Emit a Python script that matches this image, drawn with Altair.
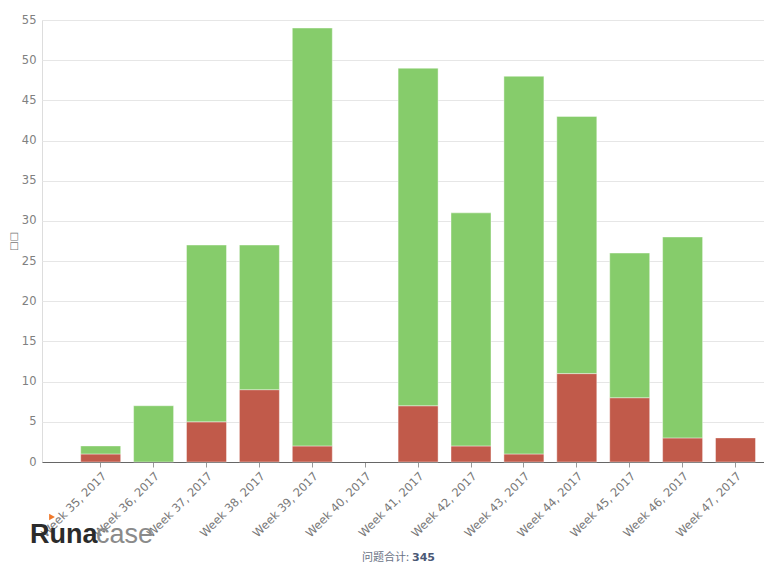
import altair as alt
import pandas as pd

weeks = ["Week 35, 2017", "Week 36, 2017", "Week 37, 2017", "Week 38, 2017",
         "Week 39, 2017", "Week 40, 2017", "Week 41, 2017", "Week 42, 2017",
         "Week 43, 2017", "Week 44, 2017", "Week 45, 2017", "Week 46, 2017",
         "Week 47, 2017"]
red_vals = [1, 0, 5, 9, 2, 0, 7, 2, 1, 11, 8, 3, 3]
green_vals = [1, 7, 22, 18, 52, 0, 42, 29, 47, 32, 18, 25, 0]
series = ["red", "green"]
colors = ["#c15a4a", "#86cc6b"]
y_ticks = [0, 5, 10, 15, 20, 25, 30, 35, 40, 45, 50, 55]
y_title = "□□"
total_label = "问题合计:"
brand_a = "Runa"
brand_b = "case"

total = sum(red_vals) + sum(green_vals)

rows = []
for i, w in enumerate(weeks):
    if red_vals[i] > 0:
        rows.append({"week": w, "series": "red", "value": red_vals[i], "ord": 0})
    if green_vals[i] > 0:
        rows.append({"week": w, "series": "green", "value": green_vals[i], "ord": 1})
df = pd.DataFrame(rows)

W, H = 722, 442

bars = alt.Chart(df).mark_bar(stroke="#ffffff", strokeWidth=0.6, strokeOpacity=0.7).encode(
    x=alt.X("week:N", sort=weeks,
            scale=alt.Scale(domain=weeks, paddingInner=0.244, paddingOuter=0.446, align=0.82),
            axis=alt.Axis(title=None, labelAngle=315, labelAlign="right", labelBaseline="top",
                          labelFont="DejaVu Sans", labelFontSize=11.5, labelColor="#777777",
                          labelPadding=3, tickSize=5, tickColor="#9a9a9a",
                          domainColor="#666666", domainWidth=1, grid=False)),
    y=alt.Y("value:Q", stack="zero",
            scale=alt.Scale(domain=[0, 55], nice=False),
            axis=alt.Axis(values=y_ticks, title=y_title, titleFont="DejaVu Sans",
                          titleFontSize=10, titleFontWeight="normal", titleColor="#777777",
                          titlePadding=3,
                          labelFont="DejaVu Sans", labelFontSize=11.5, labelColor="#808080",
                          labelPadding=6, tickSize=0, ticks=False, domain=False,
                          grid=True, gridColor="#e6e6e6", gridWidth=1)),
    color=alt.Color("series:N", scale=alt.Scale(domain=series, range=colors), legend=None),
    order=alt.Order("ord:Q"),
)

one = pd.DataFrame({"t": [total_label], "n": [str(total)], "a": [brand_a], "b": [brand_b]})

total_txt = alt.Chart(one).mark_text(align="right", baseline="alphabetic", fontSize=11,
                                     font="Noto Sans CJK SC", color="#6b7385").encode(
    x=alt.value(367), y=alt.value(541), text="t:N")
total_num = alt.Chart(one).mark_text(align="left", baseline="alphabetic", fontSize=11,
                                     font="DejaVu Sans", fontWeight="bold", color="#4a5875").encode(
    x=alt.value(370), y=alt.value(541), text="n:N")
logo_a = alt.Chart(one).mark_text(align="left", baseline="alphabetic", fontSize=27,
                                  font="Liberation Sans", fontWeight="bold", color="#2b2b2b").encode(
    x=alt.value(-12), y=alt.value(523), text="a:N")
logo_b = alt.Chart(one).mark_text(align="left", baseline="alphabetic", fontSize=27,
                                  font="Liberation Sans", color="#8a8a8a").encode(
    x=alt.value(54), y=alt.value(523), text="b:N")
logo_arrow = alt.Chart(one).mark_point(shape="triangle-right", filled=True, size=45,
                                       color="#f0782a", opacity=1).encode(
    x=alt.value(10), y=alt.value(497))

chart = alt.layer(bars, logo_a, logo_b, logo_arrow, total_txt, total_num).properties(
    width=W, height=H,
    padding={"left": 0, "top": 6, "right": 0, "bottom": 0},
).configure_view(stroke=None).configure(background="#ffffff")

chart.save("out.html", embed_options={"renderer": "svg", "actions": False})
